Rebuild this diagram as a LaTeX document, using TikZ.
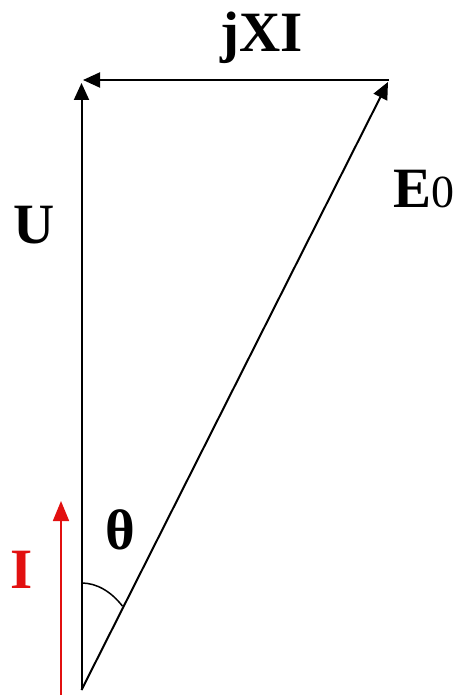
\documentclass[tikz,border=0pt]{standalone}
\usepackage{fontspec}
\setmainfont{Liberation Serif}
\usetikzlibrary{arrows.meta}
\definecolor{ired}{RGB}{226,16,16}
\begin{document}
\begin{tikzpicture}[x=1pt,y=-1pt,
  vec/.style={line width=2pt,-{Triangle[length=17pt,width=15pt]}},
  lbl/.style={inner sep=0pt,anchor=base,font=\fontsize{57}{60}\selectfont\bfseries},
  every node/.style={inner sep=0pt}]
\useasboundingbox[fill=white] (0,0) rectangle (458,695);
\coordinate (O) at (81.5,690);
\coordinate (U) at (81.5,83);
\coordinate (E) at (388,82);
\coordinate (Jt) at (83,80);
\coordinate (Je) at (389,80);
\coordinate (Ib) at (61,697);
\coordinate (It) at (61,501);
\coordinate (A1) at (81.5,583);
% vectors
\draw[vec] (O) -- (U);
\draw[vec] (O) -- (E);
\draw[vec] (Je) -- (Jt);
\draw[vec,ired,line width=1.8pt,-{Triangle[length=20pt,width=16pt]}] (Ib) -- (It);
% angle arc
\draw[line width=1.5pt] (A1) arc[start angle=-90,end angle=-51.6,x radius=66,y radius=107];
% labels
\node[lbl] (lj) at (262,52) {jXI};
\node[lbl,anchor=base west] (le) at (393,207) {E\fontsize{46}{50}\selectfont\mdseries 0};
\node[lbl] (lu) at (34,243) {U};
\node[lbl] (lt) at (120,549) {θ};
\node[lbl,text=ired] (li) at (22,588) {I};
\end{tikzpicture}
\end{document}
